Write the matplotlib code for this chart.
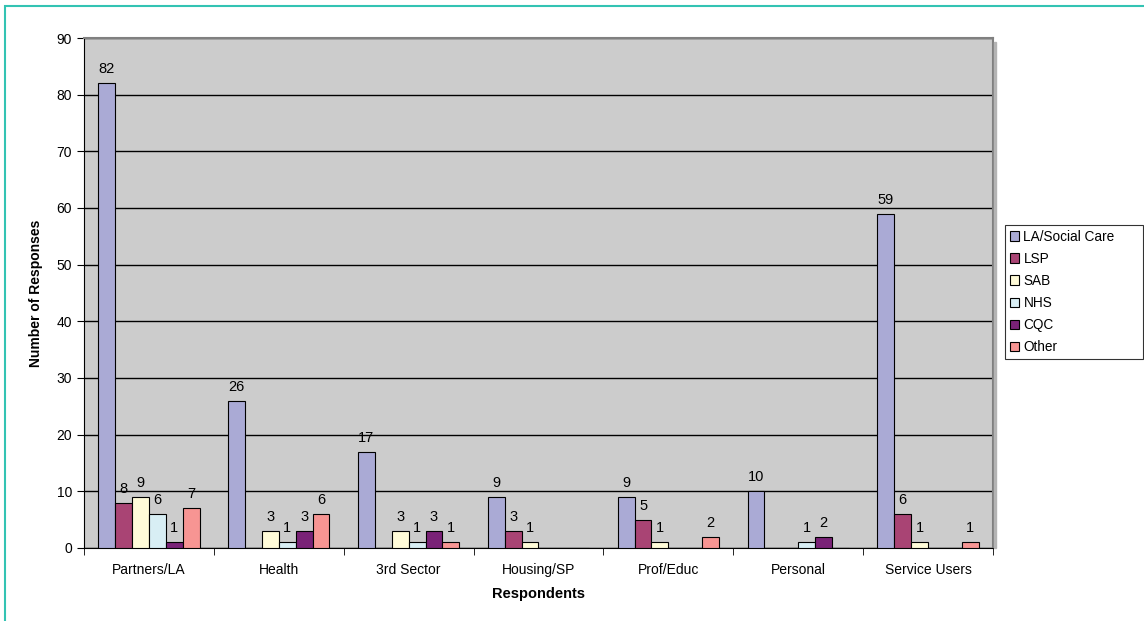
import numpy as np
import matplotlib.pyplot as plt
from matplotlib.patches import Rectangle

plt.rcParams['font.family'] = ['Liberation Sans', 'DejaVu Sans']

categories = ['Partners/LA', 'Health', '3rd Sector', 'Housing/SP',
              'Prof/Educ', 'Personal', 'Service Users']
series = ['LA/Social Care', 'LSP', 'SAB', 'NHS', 'CQC', 'Other']
la_social = [82, 26, 17, 9, 9, 10, 59]
lsp = [8, 0, 0, 3, 5, 0, 6]
sab = [9, 3, 3, 1, 1, 0, 1]
nhs = [6, 1, 1, 0, 0, 1, 0]
cqc = [1, 3, 3, 0, 0, 2, 0]
other = [7, 6, 1, 0, 2, 0, 1]
colors = ['#AAAAD5', '#A94474', '#FFFBD8', '#D8EEF4', '#7A2277', '#F79593']

values = [la_social, lsp, sab, nhs, cqc, other]

fig = plt.figure(figsize=(11.44, 6.21), dpi=100)
fig.patch.set_facecolor('white')
ax = fig.add_axes([0.0734, 0.1176, 0.7946, 0.8212])
ax.set_facecolor('#CCCCCC')

x = np.arange(len(categories))
w = 0.13
for i, (name, vals) in enumerate(zip(series, values)):
    pos = x + (i - 2.5) * w
    bars = ax.bar(pos, vals, w, color=colors[i], edgecolor='black',
                  linewidth=0.8, label=name, zorder=3)
    for b, v in zip(bars, vals):
        if v > 0:
            ax.annotate(str(v), (b.get_x() + b.get_width() / 2, v),
                        xytext=(0, 5), textcoords='offset points',
                        ha='center', va='bottom', fontsize=10.5, zorder=4)

ax.set_ylim(0, 90)
ax.set_xlim(-0.5, len(categories) - 0.5)
ax.set_yticks(range(0, 91, 10))
ax.yaxis.grid(True, color='black', linewidth=1, zorder=1)
ax.set_xticks(x)
ax.set_xticklabels(categories, fontsize=10)
ax.set_xticks(np.arange(-0.5, len(categories), 1), minor=True)
ax.tick_params(axis='x', which='major', length=0, pad=11)
ax.tick_params(axis='x', which='minor', length=5, direction='out')
ax.tick_params(axis='y', length=5, direction='out', labelsize=10)
for s in ['left', 'bottom']:
    ax.spines[s].set_color('black')
for s in ['top', 'right']:
    ax.spines[s].set_color('#808080')
    ax.spines[s].set_linewidth(1.5)

ax.set_xlabel('Respondents', fontsize=10.5, fontweight='bold', labelpad=7)
ax.set_ylabel('Number of Responses', fontsize=10, fontweight='bold', labelpad=10)

# thin shadow on the right of the plot area
fig.patches.append(Rectangle((0.8685, 0.1176), 0.002, 0.8212 - 0.006,
                             transform=fig.transFigure, color='#B4B4B4',
                             zorder=0))

leg = fig.legend(loc='upper left', bbox_to_anchor=(0.8785, 0.638, 0.121, 0.0),
                 mode='expand', fontsize=9.8, frameon=True, fancybox=False,
                 edgecolor='black', handlelength=0.7, handleheight=0.7,
                 handletextpad=0.3, labelspacing=0.6, borderpad=0.35,
                 borderaxespad=0)
leg.get_frame().set_linewidth(0.8)

# teal outer border
fig.patches.append(Rectangle((0.0045, -0.02), 1.2, 1.0103,
                             transform=fig.transFigure, fill=False,
                             edgecolor='#33C3B3', linewidth=1.5))

fig.savefig('out.png', dpi=100)
